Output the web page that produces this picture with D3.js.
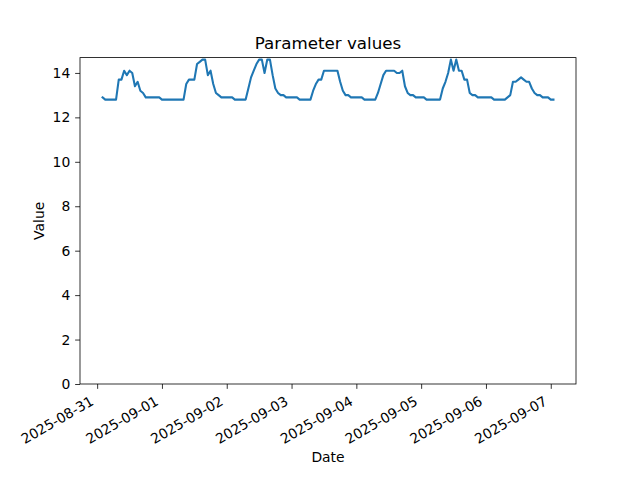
<!DOCTYPE html>
<html><head><meta charset="utf-8">
<script src="https://cdn.jsdelivr.net/npm/d3@7"></script>
<style>body{margin:0;background:#fff}text{font-family:"DejaVu Sans",sans-serif;fill:#000}</style>
</head><body><svg id="c" width="640" height="480"></svg>
<script>
// Hourly readings starting 2025-08-31 02:00 UTC
const startTime = "2025-08-31T02:00:00Z";
const values = [
 12.9,12.8,12.8,12.8,12.8,12.8,13.7,13.7,14.1,13.9,14.1,14.0,13.4,13.6,13.2,13.1,12.9,12.9,12.9,12.9,12.9,12.9,12.8,12.8,
 12.8,12.8,12.8,12.8,12.8,12.8,12.8,13.5,13.7,13.7,13.7,14.4,14.5,14.6,14.6,13.9,14.1,13.5,13.1,13.0,12.9,12.9,12.9,12.9,
 12.9,12.8,12.8,12.8,12.8,12.8,13.3,13.8,14.1,14.4,14.6,14.6,14.0,14.6,14.6,13.9,13.3,13.1,13.0,13.0,12.9,12.9,12.9,12.9,
 12.9,12.8,12.8,12.8,12.8,12.8,13.2,13.5,13.7,13.7,14.1,14.1,14.1,14.1,14.1,14.1,13.6,13.2,13.0,13.0,12.9,12.9,12.9,12.9,
 12.9,12.8,12.8,12.8,12.8,12.8,13.1,13.5,13.9,14.1,14.1,14.1,14.1,14.0,14.0,14.1,13.4,13.1,13.0,13.0,12.9,12.9,12.9,12.9,
 12.8,12.8,12.8,12.8,12.8,12.8,13.3,13.6,14.0,14.6,14.1,14.6,14.1,14.1,13.7,13.7,13.1,13.0,13.0,12.9,12.9,12.9,12.9,12.9,
 12.9,12.8,12.8,12.8,12.8,12.8,12.9,13.0,13.6,13.6,13.7,13.8,13.7,13.6,13.6,13.3,13.1,13.0,13.0,12.9,12.9,12.9,12.8,12.8
];
const xTickLabels = ["2025-08-31","2025-09-01","2025-09-02","2025-09-03","2025-09-04","2025-09-05","2025-09-06","2025-09-07"];
const yTicks = [0,2,4,6,8,10,12,14];
const title = "Parameter values", xLabel = "Date", yLabel = "Value";

const t0 = new Date(startTime);
const data = values.map((v,i)=>({date:d3.utcHour.offset(t0,i), value:v}));

const L=80, R=576, T=57.6, B=384;
const svg = d3.select("#c");
const xExt = d3.extent(data,d=>d.date);
const span = xExt[1]-xExt[0];
const x = d3.scaleUtc().domain([new Date(+xExt[0]-0.05*span), new Date(+xExt[1]+0.05*span)]).range([L,R]);
const vmin = d3.min(values), vmax = d3.max(values);
const y = d3.scaleLinear().domain([0, vmax+0.05*(vmax-vmin)]).range([B,T]);

svg.append("defs").append("clipPath").attr("id","clip").append("rect")
  .attr("x",L).attr("y",T).attr("width",R-L).attr("height",B-T);

svg.append("path").datum(data).attr("clip-path","url(#clip)")
  .attr("fill","none").attr("stroke","#1f77b4").attr("stroke-width",2.08)
  .attr("stroke-linejoin","round").attr("stroke-linecap","square")
  .attr("d", d3.line().x(d=>x(d.date)).y(d=>y(d.value)));

// y axis
const yAxis = d3.axisLeft(y).tickValues(yTicks).tickFormat(d3.format("d")).tickSize(4.86).tickPadding(4.86);
const gy = svg.append("g").attr("transform",`translate(${L},0)`).call(yAxis);
gy.select(".domain").remove();
gy.selectAll("line").attr("stroke","#000").attr("stroke-width",0.8);
gy.selectAll("text").style("font-size","13.9px").attr("font-family","DejaVu Sans");

// x axis
const xTickDates = xTickLabels.map(s=>new Date(s+"T00:00:00Z"));
const xAxis = d3.axisBottom(x).tickValues(xTickDates).tickFormat((d,i)=>xTickLabels[i]).tickSize(4.86).tickPadding(0);
const gx = svg.append("g").attr("transform",`translate(0,${B})`).call(xAxis);
gx.select(".domain").remove();
gx.selectAll("line").attr("stroke","#000").attr("stroke-width",0.8);
gx.selectAll("text").style("font-size","13.9px").attr("font-family","DejaVu Sans")
  .attr("text-anchor","end").attr("y",0).attr("dy",0)
  .attr("transform","translate(-3,20) rotate(-30)");

// spines
svg.append("rect").attr("x",L).attr("y",T).attr("width",R-L).attr("height",B-T)
  .attr("fill","none").attr("stroke","#000").attr("stroke-width",0.8);

svg.append("text").attr("x",(L+R)/2).attr("y",49).attr("text-anchor","middle")
  .style("font-size","16.7px").text(title);
svg.append("text").attr("x",(L+R)/2).attr("y",462).attr("text-anchor","middle")
  .style("font-size","13.9px").text(xLabel);
svg.append("text").attr("transform",`translate(44,${(T+B)/2}) rotate(-90)`).attr("text-anchor","middle")
  .style("font-size","13.9px").text(yLabel);
</script></body></html>
